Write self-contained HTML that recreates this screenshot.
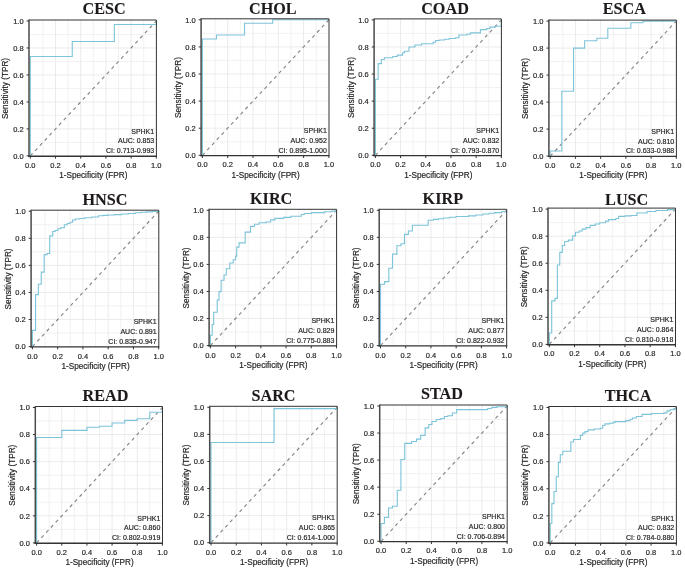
<!DOCTYPE html>
<html><head><meta charset="utf-8"><title>ROC curves</title>
<style>html,body{margin:0;padding:0;background:#fff;}body{width:685px;height:568px;overflow:hidden;font-family:"Liberation Sans",sans-serif;}svg{display:block;will-change:transform;}</style>
</head><body>
<svg width="685" height="568" viewBox="0 0 685 568" font-family="Liberation Sans, sans-serif"><style>text{stroke:#262626;stroke-width:0.18px;} text.t{stroke:#1f1a1a;stroke-width:0.1px;}</style><g><path d="M42.9 20V156.25M29 142.41H156.4M68.1 20V156.25M29 115.43H156.4M93.3 20V156.25M29 88.45H156.4M118.5 20V156.25M29 61.47H156.4M143.7 20V156.25M29 34.49H156.4" stroke="#ebebeb" stroke-width="0.7" fill="none"/>
<path d="M55.5 20V156.25M29 128.92H156.4M80.7 20V156.25M29 101.94H156.4M105.9 20V156.25M29 74.96H156.4M131.1 20V156.25M29 47.98H156.4" stroke="#ebebeb" stroke-width="1.0" fill="none"/>
<path d="M30.3 155.9L156.3 21" stroke="#858585" stroke-width="1.15" stroke-dasharray="3.4 3.6" fill="none"/>
<path d="M30.3 155.9H30.3V56.48H72.26V41.5H114.34V24.51H156.3V24.51H156.3V21" stroke="#7cc4d9" stroke-width="1.1" fill="none" stroke-linejoin="miter"/>
<path d="M29 20H156.4" stroke="#333333" stroke-width="1.0"/>
<path d="M156.4 20V156.25" stroke="#333333" stroke-width="1.0"/>
<path d="M29 19.5V156.85" stroke="#4a4a4a" stroke-width="1.5"/>
<path d="M28.3 156.25H156.9" stroke="#333333" stroke-width="1.3"/>
<path d="M26.6 155.9H29M30.3 156.25V158.65M26.6 128.92H29M55.5 156.25V158.65M26.6 101.94H29M80.7 156.25V158.65M26.6 74.96H29M105.9 156.25V158.65M26.6 47.98H29M131.1 156.25V158.65M26.6 21H29M156.3 156.25V158.65" stroke="#333333" stroke-width="1"/>
<g font-size="7.5" fill="#262626"><text x="23.6" y="158.6" text-anchor="end">0.0</text><text x="30.3" y="167.8" text-anchor="middle">0.0</text><text x="23.6" y="131.62" text-anchor="end">0.2</text><text x="55.5" y="167.8" text-anchor="middle">0.2</text><text x="23.6" y="104.64" text-anchor="end">0.4</text><text x="80.7" y="167.8" text-anchor="middle">0.4</text><text x="23.6" y="77.66" text-anchor="end">0.6</text><text x="105.9" y="167.8" text-anchor="middle">0.6</text><text x="23.6" y="50.68" text-anchor="end">0.8</text><text x="131.1" y="167.8" text-anchor="middle">0.8</text><text x="23.6" y="23.7" text-anchor="end">1.0</text><text x="156.3" y="167.8" text-anchor="middle">1.0</text></g>
<text x="93.3" y="178.1" text-anchor="middle" font-size="8.2" fill="#262626">1-Specificity (FPR)</text>
<text transform="translate(8.4 88.45) rotate(-90)" text-anchor="middle" font-size="8.2" fill="#262626">Sensitivity (TPR)</text>
<g font-size="7.0" fill="#262626" text-anchor="end"><text x="154.2" y="133.5">SPHK1</text><text x="154.2" y="143.3">AUC: 0.853</text><text x="154.2" y="153.2">CI: 0.713-0.993</text></g>
<text class="t" x="104.1" y="13.9" text-anchor="middle" font-family="Liberation Serif, serif" font-weight="bold" font-size="16.2" fill="#1f1a1a">CESC</text></g>
<g><path d="M215.05 18.8V155.65M201.1 141.75H329M240.35 18.8V155.65M201.1 114.65H329M265.65 18.8V155.65M201.1 87.55H329M290.95 18.8V155.65M201.1 60.45H329M316.25 18.8V155.65M201.1 33.35H329" stroke="#ebebeb" stroke-width="0.7" fill="none"/>
<path d="M227.7 18.8V155.65M201.1 128.2H329M253 18.8V155.65M201.1 101.1H329M278.3 18.8V155.65M201.1 74H329M303.6 18.8V155.65M201.1 46.9H329" stroke="#ebebeb" stroke-width="1.0" fill="none"/>
<path d="M202.4 155.3L328.9 19.8" stroke="#858585" stroke-width="1.15" stroke-dasharray="3.4 3.6" fill="none"/>
<path d="M202.4 155.3H202.4V39.04H216.44V34.98H244.52V23.32H272.73V19.8H328.9V19.8" stroke="#7cc4d9" stroke-width="1.1" fill="none" stroke-linejoin="miter"/>
<path d="M201.1 18.8H329" stroke="#333333" stroke-width="1.0"/>
<path d="M329 18.8V155.65" stroke="#333333" stroke-width="1.0"/>
<path d="M201.1 18.3V156.25" stroke="#4a4a4a" stroke-width="1.5"/>
<path d="M200.4 155.65H329.5" stroke="#333333" stroke-width="1.3"/>
<path d="M198.7 155.3H201.1M202.4 155.65V158.05M198.7 128.2H201.1M227.7 155.65V158.05M198.7 101.1H201.1M253 155.65V158.05M198.7 74H201.1M278.3 155.65V158.05M198.7 46.9H201.1M303.6 155.65V158.05M198.7 19.8H201.1M328.9 155.65V158.05" stroke="#333333" stroke-width="1"/>
<g font-size="7.5" fill="#262626"><text x="195.7" y="158" text-anchor="end">0.0</text><text x="202.4" y="167.2" text-anchor="middle">0.0</text><text x="195.7" y="130.9" text-anchor="end">0.2</text><text x="227.7" y="167.2" text-anchor="middle">0.2</text><text x="195.7" y="103.8" text-anchor="end">0.4</text><text x="253" y="167.2" text-anchor="middle">0.4</text><text x="195.7" y="76.7" text-anchor="end">0.6</text><text x="278.3" y="167.2" text-anchor="middle">0.6</text><text x="195.7" y="49.6" text-anchor="end">0.8</text><text x="303.6" y="167.2" text-anchor="middle">0.8</text><text x="195.7" y="22.5" text-anchor="end">1.0</text><text x="328.9" y="167.2" text-anchor="middle">1.0</text></g>
<text x="265.65" y="177.5" text-anchor="middle" font-size="8.2" fill="#262626">1-Specificity (FPR)</text>
<text transform="translate(180.5 87.55) rotate(-90)" text-anchor="middle" font-size="8.2" fill="#262626">Sensitivity (TPR)</text>
<g font-size="7.0" fill="#262626" text-anchor="end"><text x="326.8" y="132.9">SPHK1</text><text x="326.8" y="142.7">AUC: 0.952</text><text x="326.8" y="152.6">CI: 0.895-1.000</text></g>
<text class="t" x="272.85" y="14.3" text-anchor="middle" font-family="Liberation Serif, serif" font-weight="bold" font-size="16.2" fill="#1f1a1a">CHOL</text></g>
<g><path d="M387.99 18.9V155.65M374.1 141.76H501.4M413.17 18.9V155.65M374.1 114.68H501.4M438.35 18.9V155.65M374.1 87.6H501.4M463.53 18.9V155.65M374.1 60.52H501.4M488.71 18.9V155.65M374.1 33.44H501.4" stroke="#ebebeb" stroke-width="0.7" fill="none"/>
<path d="M400.58 18.9V155.65M374.1 128.22H501.4M425.76 18.9V155.65M374.1 101.14H501.4M450.94 18.9V155.65M374.1 74.06H501.4M476.12 18.9V155.65M374.1 46.98H501.4" stroke="#ebebeb" stroke-width="1.0" fill="none"/>
<path d="M375.4 155.3L501.3 19.9" stroke="#858585" stroke-width="1.15" stroke-dasharray="3.4 3.6" fill="none"/>
<path d="M375.4 155.3H375.4V79.21H378.17V63.63H381.32V59.44H384.34V57.81H392.77V56.46H397.31V55.1H402.59V52.8H404.36V51.31H409.02V46.98H414.93V44.95H421.48V43.73H433.19V42.24H435.71V40.48H439.61V39.94H444.64V39.26H449.3V38.45H455.6V37.77H458.87V34.93H466.8V34.25H470.45V32.9H480.4V29.65H486.82V28.43H489.97V27.08H495.26V26.26H501.3V26.26H501.3V19.9" stroke="#7cc4d9" stroke-width="1.1" fill="none" stroke-linejoin="miter"/>
<path d="M374.1 18.9H501.4" stroke="#333333" stroke-width="1.0"/>
<path d="M501.4 18.9V155.65" stroke="#333333" stroke-width="1.0"/>
<path d="M374.1 18.4V156.25" stroke="#4a4a4a" stroke-width="1.5"/>
<path d="M373.4 155.65H501.9" stroke="#333333" stroke-width="1.3"/>
<path d="M371.7 155.3H374.1M375.4 155.65V158.05M371.7 128.22H374.1M400.58 155.65V158.05M371.7 101.14H374.1M425.76 155.65V158.05M371.7 74.06H374.1M450.94 155.65V158.05M371.7 46.98H374.1M476.12 155.65V158.05M371.7 19.9H374.1M501.3 155.65V158.05" stroke="#333333" stroke-width="1"/>
<g font-size="7.5" fill="#262626"><text x="368.7" y="158" text-anchor="end">0.0</text><text x="375.4" y="167.2" text-anchor="middle">0.0</text><text x="368.7" y="130.92" text-anchor="end">0.2</text><text x="400.58" y="167.2" text-anchor="middle">0.2</text><text x="368.7" y="103.84" text-anchor="end">0.4</text><text x="425.76" y="167.2" text-anchor="middle">0.4</text><text x="368.7" y="76.76" text-anchor="end">0.6</text><text x="450.94" y="167.2" text-anchor="middle">0.6</text><text x="368.7" y="49.68" text-anchor="end">0.8</text><text x="476.12" y="167.2" text-anchor="middle">0.8</text><text x="368.7" y="22.6" text-anchor="end">1.0</text><text x="501.3" y="167.2" text-anchor="middle">1.0</text></g>
<text x="438.35" y="177.5" text-anchor="middle" font-size="8.2" fill="#262626">1-Specificity (FPR)</text>
<text transform="translate(353.5 87.6) rotate(-90)" text-anchor="middle" font-size="8.2" fill="#262626">Sensitivity (TPR)</text>
<g font-size="7.0" fill="#262626" text-anchor="end"><text x="499.2" y="132.9">SPHK1</text><text x="499.2" y="142.7">AUC: 0.832</text><text x="499.2" y="152.6">CI: 0.793-0.870</text></g>
<text class="t" x="445" y="14.3" text-anchor="middle" font-family="Liberation Serif, serif" font-weight="bold" font-size="16.2" fill="#1f1a1a">COAD</text></g>
<g><path d="M562.81 20.1V156.45M548.9 142.6H676.4M588.03 20.1V156.45M548.9 115.6H676.4M613.25 20.1V156.45M548.9 88.6H676.4M638.47 20.1V156.45M548.9 61.6H676.4M663.69 20.1V156.45M548.9 34.6H676.4" stroke="#ebebeb" stroke-width="0.7" fill="none"/>
<path d="M575.42 20.1V156.45M548.9 129.1H676.4M600.64 20.1V156.45M548.9 102.1H676.4M625.86 20.1V156.45M548.9 75.1H676.4M651.08 20.1V156.45M548.9 48.1H676.4" stroke="#ebebeb" stroke-width="1.0" fill="none"/>
<path d="M550.2 156.1L676.3 21.1" stroke="#858585" stroke-width="1.15" stroke-dasharray="3.4 3.6" fill="none"/>
<path d="M550.2 156.1H550.2V150.97H561.8V91.3H573.53V48.1H584.63V40.81H596.86V38.24H607.83V28.25H630.9V22.72H642.88V21.1H676.3V21.1" stroke="#7cc4d9" stroke-width="1.1" fill="none" stroke-linejoin="miter"/>
<path d="M548.9 20.1H676.4" stroke="#333333" stroke-width="1.0"/>
<path d="M676.4 20.1V156.45" stroke="#333333" stroke-width="1.0"/>
<path d="M548.9 19.6V157.05" stroke="#4a4a4a" stroke-width="1.5"/>
<path d="M548.2 156.45H676.9" stroke="#333333" stroke-width="1.3"/>
<path d="M546.5 156.1H548.9M550.2 156.45V158.85M546.5 129.1H548.9M575.42 156.45V158.85M546.5 102.1H548.9M600.64 156.45V158.85M546.5 75.1H548.9M625.86 156.45V158.85M546.5 48.1H548.9M651.08 156.45V158.85M546.5 21.1H548.9M676.3 156.45V158.85" stroke="#333333" stroke-width="1"/>
<g font-size="7.5" fill="#262626"><text x="543.5" y="158.8" text-anchor="end">0.0</text><text x="550.2" y="168" text-anchor="middle">0.0</text><text x="543.5" y="131.8" text-anchor="end">0.2</text><text x="575.42" y="168" text-anchor="middle">0.2</text><text x="543.5" y="104.8" text-anchor="end">0.4</text><text x="600.64" y="168" text-anchor="middle">0.4</text><text x="543.5" y="77.8" text-anchor="end">0.6</text><text x="625.86" y="168" text-anchor="middle">0.6</text><text x="543.5" y="50.8" text-anchor="end">0.8</text><text x="651.08" y="168" text-anchor="middle">0.8</text><text x="543.5" y="23.8" text-anchor="end">1.0</text><text x="676.3" y="168" text-anchor="middle">1.0</text></g>
<text x="613.25" y="178.3" text-anchor="middle" font-size="8.2" fill="#262626">1-Specificity (FPR)</text>
<text transform="translate(528.3 88.6) rotate(-90)" text-anchor="middle" font-size="8.2" fill="#262626">Sensitivity (TPR)</text>
<g font-size="7.0" fill="#262626" text-anchor="end"><text x="674.2" y="133.7">SPHK1</text><text x="674.2" y="143.5">AUC: 0.810</text><text x="674.2" y="153.4">CI: 0.633-0.988</text></g>
<text class="t" x="624.25" y="14.3" text-anchor="middle" font-family="Liberation Serif, serif" font-weight="bold" font-size="16.2" fill="#1f1a1a">ESCA</text></g>
<g><path d="M45.03 210.2V346.95M31.1 333.06H158.8M70.29 210.2V346.95M31.1 305.98H158.8M95.55 210.2V346.95M31.1 278.9H158.8M120.81 210.2V346.95M31.1 251.82H158.8M146.07 210.2V346.95M31.1 224.74H158.8" stroke="#ebebeb" stroke-width="0.7" fill="none"/>
<path d="M57.66 210.2V346.95M31.1 319.52H158.8M82.92 210.2V346.95M31.1 292.44H158.8M108.18 210.2V346.95M31.1 265.36H158.8M133.44 210.2V346.95M31.1 238.28H158.8" stroke="#ebebeb" stroke-width="1.0" fill="none"/>
<path d="M32.4 346.6L158.7 211.2" stroke="#858585" stroke-width="1.15" stroke-dasharray="3.4 3.6" fill="none"/>
<path d="M32.4 346.6H32.4V330.35H35.56V294.61H38.34V284.32H41.24V272.13H44.15V254.66H47.05V253.44H49.7V235.84H52.73V231.51H55.13V230.43H57.91V228.8H60.82V227.72H64.35V224.74H67.26V223.52H70.04V222.3H72.56V220H75.47V219.05H79.76V218.51H84.81V217.7H91.76V217.02H98.45V215.8H103.13V215.4H107.8V214.99H114.5V214.59H121.57V214.04H128.39V213.5H135.21V212.82H141.02V212.28H146.07V211.88H152.38V211.47H158.7V211.2" stroke="#7cc4d9" stroke-width="1.1" fill="none" stroke-linejoin="miter"/>
<path d="M31.1 210.2H158.8" stroke="#333333" stroke-width="1.0"/>
<path d="M158.8 210.2V346.95" stroke="#333333" stroke-width="1.0"/>
<path d="M31.1 209.7V347.55" stroke="#4a4a4a" stroke-width="1.5"/>
<path d="M30.4 346.95H159.3" stroke="#333333" stroke-width="1.3"/>
<path d="M28.7 346.6H31.1M32.4 346.95V349.35M28.7 319.52H31.1M57.66 346.95V349.35M28.7 292.44H31.1M82.92 346.95V349.35M28.7 265.36H31.1M108.18 346.95V349.35M28.7 238.28H31.1M133.44 346.95V349.35M28.7 211.2H31.1M158.7 346.95V349.35" stroke="#333333" stroke-width="1"/>
<g font-size="7.5" fill="#262626"><text x="25.7" y="349.3" text-anchor="end">0.0</text><text x="32.4" y="358.5" text-anchor="middle">0.0</text><text x="25.7" y="322.22" text-anchor="end">0.2</text><text x="57.66" y="358.5" text-anchor="middle">0.2</text><text x="25.7" y="295.14" text-anchor="end">0.4</text><text x="82.92" y="358.5" text-anchor="middle">0.4</text><text x="25.7" y="268.06" text-anchor="end">0.6</text><text x="108.18" y="358.5" text-anchor="middle">0.6</text><text x="25.7" y="240.98" text-anchor="end">0.8</text><text x="133.44" y="358.5" text-anchor="middle">0.8</text><text x="25.7" y="213.9" text-anchor="end">1.0</text><text x="158.7" y="358.5" text-anchor="middle">1.0</text></g>
<text x="95.55" y="368.8" text-anchor="middle" font-size="8.2" fill="#262626">1-Specificity (FPR)</text>
<text transform="translate(10.5 278.9) rotate(-90)" text-anchor="middle" font-size="8.2" fill="#262626">Sensitivity (TPR)</text>
<g font-size="7.0" fill="#262626" text-anchor="end"><text x="156.6" y="324.2">SPHK1</text><text x="156.6" y="334">AUC: 0.891</text><text x="156.6" y="343.9">CI: 0.835-0.947</text></g>
<text class="t" x="105" y="204.6" text-anchor="middle" font-family="Liberation Serif, serif" font-weight="bold" font-size="16.2" fill="#1f1a1a">HNSC</text></g>
<g><path d="M223.01 209.3V345.95M209.1 332.07H336.6M248.23 209.3V345.95M209.1 305.01H336.6M273.45 209.3V345.95M209.1 277.95H336.6M298.67 209.3V345.95M209.1 250.89H336.6M323.89 209.3V345.95M209.1 223.83H336.6" stroke="#ebebeb" stroke-width="0.7" fill="none"/>
<path d="M235.62 209.3V345.95M209.1 318.54H336.6M260.84 209.3V345.95M209.1 291.48H336.6M286.06 209.3V345.95M209.1 264.42H336.6M311.28 209.3V345.95M209.1 237.36H336.6" stroke="#ebebeb" stroke-width="1.0" fill="none"/>
<path d="M210.4 345.6L336.5 210.3" stroke="#858585" stroke-width="1.15" stroke-dasharray="3.4 3.6" fill="none"/>
<path d="M210.4 345.6H210.4V335.18H212.17V324.49H213.68V312.32H217.21V300.14H218.97V291.62H221.12V280.25H224.02V274.97H226.29V268.75H229.82V263.07H233.22V259.68H235.62V256.17H236.75V247.1H239.02V242.91H245.2V232.08H250.5V226.4H254.53V224.24H258.95V222.75H266.26V222.07H270.68V219.91H274.96V218.42H283.79V217.34H291.1V216.25H301.32V214.49H304.22V213.55H311.53V212.6H324.65V211.79H331.96V211.11H336.5V211.11H336.5V210.3" stroke="#7cc4d9" stroke-width="1.1" fill="none" stroke-linejoin="miter"/>
<path d="M209.1 209.3H336.6" stroke="#333333" stroke-width="1.0"/>
<path d="M336.6 209.3V345.95" stroke="#333333" stroke-width="1.0"/>
<path d="M209.1 208.8V346.55" stroke="#4a4a4a" stroke-width="1.5"/>
<path d="M208.4 345.95H337.1" stroke="#333333" stroke-width="1.3"/>
<path d="M206.7 345.6H209.1M210.4 345.95V348.35M206.7 318.54H209.1M235.62 345.95V348.35M206.7 291.48H209.1M260.84 345.95V348.35M206.7 264.42H209.1M286.06 345.95V348.35M206.7 237.36H209.1M311.28 345.95V348.35M206.7 210.3H209.1M336.5 345.95V348.35" stroke="#333333" stroke-width="1"/>
<g font-size="7.5" fill="#262626"><text x="203.7" y="348.3" text-anchor="end">0.0</text><text x="210.4" y="357.5" text-anchor="middle">0.0</text><text x="203.7" y="321.24" text-anchor="end">0.2</text><text x="235.62" y="357.5" text-anchor="middle">0.2</text><text x="203.7" y="294.18" text-anchor="end">0.4</text><text x="260.84" y="357.5" text-anchor="middle">0.4</text><text x="203.7" y="267.12" text-anchor="end">0.6</text><text x="286.06" y="357.5" text-anchor="middle">0.6</text><text x="203.7" y="240.06" text-anchor="end">0.8</text><text x="311.28" y="357.5" text-anchor="middle">0.8</text><text x="203.7" y="213" text-anchor="end">1.0</text><text x="336.5" y="357.5" text-anchor="middle">1.0</text></g>
<text x="273.45" y="367.8" text-anchor="middle" font-size="8.2" fill="#262626">1-Specificity (FPR)</text>
<text transform="translate(188.5 277.95) rotate(-90)" text-anchor="middle" font-size="8.2" fill="#262626">Sensitivity (TPR)</text>
<g font-size="7.0" fill="#262626" text-anchor="end"><text x="334.4" y="323.2">SPHK1</text><text x="334.4" y="333">AUC: 0.829</text><text x="334.4" y="342.9">CI: 0.775-0.883</text></g>
<text class="t" x="271.15" y="204.1" text-anchor="middle" font-family="Liberation Serif, serif" font-weight="bold" font-size="16.2" fill="#1f1a1a">KIRC</text></g>
<g><path d="M393.11 209.3V345.95M379.2 332.07H506.7M418.33 209.3V345.95M379.2 305.01H506.7M443.55 209.3V345.95M379.2 277.95H506.7M468.77 209.3V345.95M379.2 250.89H506.7M493.99 209.3V345.95M379.2 223.83H506.7" stroke="#ebebeb" stroke-width="0.7" fill="none"/>
<path d="M405.72 209.3V345.95M379.2 318.54H506.7M430.94 209.3V345.95M379.2 291.48H506.7M456.16 209.3V345.95M379.2 264.42H506.7M481.38 209.3V345.95M379.2 237.36H506.7" stroke="#ebebeb" stroke-width="1.0" fill="none"/>
<path d="M380.5 345.6L506.6 210.3" stroke="#858585" stroke-width="1.15" stroke-dasharray="3.4 3.6" fill="none"/>
<path d="M380.5 345.6H380.5V284.31H384.54V281.6H388.82V268.21H392.48V254.14H396.89V245.75H400.93V243.72H404.46V234.38H408.37V231H412.4V225.18H428.17V220.18H433.46V219.37H438.51V218.69H443.55V218.01H449.86V217.2H456.03V216.52H468.39V215.85H475.71V215.04H483.02V213.95H488.95V213.28H494.75V212.6H501.93V211.52H506.6V211.52H506.6V210.3" stroke="#7cc4d9" stroke-width="1.1" fill="none" stroke-linejoin="miter"/>
<path d="M379.2 209.3H506.7" stroke="#333333" stroke-width="1.0"/>
<path d="M506.7 209.3V345.95" stroke="#333333" stroke-width="1.0"/>
<path d="M379.2 208.8V346.55" stroke="#4a4a4a" stroke-width="1.5"/>
<path d="M378.5 345.95H507.2" stroke="#333333" stroke-width="1.3"/>
<path d="M376.8 345.6H379.2M380.5 345.95V348.35M376.8 318.54H379.2M405.72 345.95V348.35M376.8 291.48H379.2M430.94 345.95V348.35M376.8 264.42H379.2M456.16 345.95V348.35M376.8 237.36H379.2M481.38 345.95V348.35M376.8 210.3H379.2M506.6 345.95V348.35" stroke="#333333" stroke-width="1"/>
<g font-size="7.5" fill="#262626"><text x="373.8" y="348.3" text-anchor="end">0.0</text><text x="380.5" y="357.5" text-anchor="middle">0.0</text><text x="373.8" y="321.24" text-anchor="end">0.2</text><text x="405.72" y="357.5" text-anchor="middle">0.2</text><text x="373.8" y="294.18" text-anchor="end">0.4</text><text x="430.94" y="357.5" text-anchor="middle">0.4</text><text x="373.8" y="267.12" text-anchor="end">0.6</text><text x="456.16" y="357.5" text-anchor="middle">0.6</text><text x="373.8" y="240.06" text-anchor="end">0.8</text><text x="481.38" y="357.5" text-anchor="middle">0.8</text><text x="373.8" y="213" text-anchor="end">1.0</text><text x="506.6" y="357.5" text-anchor="middle">1.0</text></g>
<text x="443.55" y="367.8" text-anchor="middle" font-size="8.2" fill="#262626">1-Specificity (FPR)</text>
<text transform="translate(358.6 277.95) rotate(-90)" text-anchor="middle" font-size="8.2" fill="#262626">Sensitivity (TPR)</text>
<g font-size="7.0" fill="#262626" text-anchor="end"><text x="504.5" y="323.2">SPHK1</text><text x="504.5" y="333">AUC: 0.877</text><text x="504.5" y="342.9">CI: 0.822-0.932</text></g>
<text class="t" x="442.8" y="203.8" text-anchor="middle" font-family="Liberation Serif, serif" font-weight="bold" font-size="16.2" fill="#1f1a1a">KIRP</text></g>
<g><path d="M561.91 208.1V344.75M548 330.87H675.5M587.13 208.1V344.75M548 303.81H675.5M612.35 208.1V344.75M548 276.75H675.5M637.57 208.1V344.75M548 249.69H675.5M662.79 208.1V344.75M548 222.63H675.5" stroke="#ebebeb" stroke-width="0.7" fill="none"/>
<path d="M574.52 208.1V344.75M548 317.34H675.5M599.74 208.1V344.75M548 290.28H675.5M624.96 208.1V344.75M548 263.22H675.5M650.18 208.1V344.75M548 236.16H675.5" stroke="#ebebeb" stroke-width="1.0" fill="none"/>
<path d="M549.3 344.4L675.4 209.1" stroke="#858585" stroke-width="1.15" stroke-dasharray="3.4 3.6" fill="none"/>
<path d="M549.3 344.4H549.3V333.03H551.7V300.83H554.97V298.4H557.37V264.98H559.77V252.4H562.29V245.5H564.68V241.44H568.34V240.08H572.63V235.89H575.53V232.24H579.31V231.02H582.21V229.12H585.87V227.64H590.16V225.34H595.33V223.98H599.74V222.77H605.54V221.14H608.57V219.65H615.75V218.44H618.65V216.41H624.96V215.86H631.14V215.46H636.94V213.02H647.15V211.54H655.85V210.45H667.58V209.64H675.4V209.1" stroke="#7cc4d9" stroke-width="1.1" fill="none" stroke-linejoin="miter"/>
<path d="M548 208.1H675.5" stroke="#333333" stroke-width="1.0"/>
<path d="M675.5 208.1V344.75" stroke="#333333" stroke-width="1.0"/>
<path d="M548 207.6V345.35" stroke="#4a4a4a" stroke-width="1.5"/>
<path d="M547.3 344.75H676" stroke="#333333" stroke-width="1.3"/>
<path d="M545.6 344.4H548M549.3 344.75V347.15M545.6 317.34H548M574.52 344.75V347.15M545.6 290.28H548M599.74 344.75V347.15M545.6 263.22H548M624.96 344.75V347.15M545.6 236.16H548M650.18 344.75V347.15M545.6 209.1H548M675.4 344.75V347.15" stroke="#333333" stroke-width="1"/>
<g font-size="7.5" fill="#262626"><text x="542.6" y="347.1" text-anchor="end">0.0</text><text x="549.3" y="356.3" text-anchor="middle">0.0</text><text x="542.6" y="320.04" text-anchor="end">0.2</text><text x="574.52" y="356.3" text-anchor="middle">0.2</text><text x="542.6" y="292.98" text-anchor="end">0.4</text><text x="599.74" y="356.3" text-anchor="middle">0.4</text><text x="542.6" y="265.92" text-anchor="end">0.6</text><text x="624.96" y="356.3" text-anchor="middle">0.6</text><text x="542.6" y="238.86" text-anchor="end">0.8</text><text x="650.18" y="356.3" text-anchor="middle">0.8</text><text x="542.6" y="211.8" text-anchor="end">1.0</text><text x="675.4" y="356.3" text-anchor="middle">1.0</text></g>
<text x="612.35" y="366.6" text-anchor="middle" font-size="8.2" fill="#262626">1-Specificity (FPR)</text>
<text transform="translate(527.4 276.75) rotate(-90)" text-anchor="middle" font-size="8.2" fill="#262626">Sensitivity (TPR)</text>
<g font-size="7.0" fill="#262626" text-anchor="end"><text x="673.3" y="322">SPHK1</text><text x="673.3" y="331.8">AUC: 0.864</text><text x="673.3" y="341.7">CI: 0.810-0.918</text></g>
<text class="t" x="626.7" y="205" text-anchor="middle" font-family="Liberation Serif, serif" font-weight="bold" font-size="16.2" fill="#1f1a1a">LUSC</text></g>
<g><path d="M49.18 406.5V543.25M35.3 529.36H162.5M74.34 406.5V543.25M35.3 502.28H162.5M99.5 406.5V543.25M35.3 475.2H162.5M124.66 406.5V543.25M35.3 448.12H162.5M149.82 406.5V543.25M35.3 421.04H162.5" stroke="#ebebeb" stroke-width="0.7" fill="none"/>
<path d="M61.76 406.5V543.25M35.3 515.82H162.5M86.92 406.5V543.25M35.3 488.74H162.5M112.08 406.5V543.25M35.3 461.66H162.5M137.24 406.5V543.25M35.3 434.58H162.5" stroke="#ebebeb" stroke-width="1.0" fill="none"/>
<path d="M36.6 542.9L162.4 407.5" stroke="#858585" stroke-width="1.15" stroke-dasharray="3.4 3.6" fill="none"/>
<path d="M36.6 542.9H36.6V437.56H61.76V430.38H86.92V427.27H99.5V426.19H112.08V422.94H124.66V420.36H137.24V418.74H149.82V412.24H162.4V412.24H162.4V407.5" stroke="#7cc4d9" stroke-width="1.1" fill="none" stroke-linejoin="miter"/>
<path d="M35.3 406.5H162.5" stroke="#333333" stroke-width="1.0"/>
<path d="M162.5 406.5V543.25" stroke="#333333" stroke-width="1.0"/>
<path d="M35.3 406V543.85" stroke="#4a4a4a" stroke-width="1.5"/>
<path d="M34.6 543.25H163" stroke="#333333" stroke-width="1.3"/>
<path d="M32.9 542.9H35.3M36.6 543.25V545.65M32.9 515.82H35.3M61.76 543.25V545.65M32.9 488.74H35.3M86.92 543.25V545.65M32.9 461.66H35.3M112.08 543.25V545.65M32.9 434.58H35.3M137.24 543.25V545.65M32.9 407.5H35.3M162.4 543.25V545.65" stroke="#333333" stroke-width="1"/>
<g font-size="7.5" fill="#262626"><text x="29.9" y="545.6" text-anchor="end">0.0</text><text x="36.6" y="554.8" text-anchor="middle">0.0</text><text x="29.9" y="518.52" text-anchor="end">0.2</text><text x="61.76" y="554.8" text-anchor="middle">0.2</text><text x="29.9" y="491.44" text-anchor="end">0.4</text><text x="86.92" y="554.8" text-anchor="middle">0.4</text><text x="29.9" y="464.36" text-anchor="end">0.6</text><text x="112.08" y="554.8" text-anchor="middle">0.6</text><text x="29.9" y="437.28" text-anchor="end">0.8</text><text x="137.24" y="554.8" text-anchor="middle">0.8</text><text x="29.9" y="410.2" text-anchor="end">1.0</text><text x="162.4" y="554.8" text-anchor="middle">1.0</text></g>
<text x="99.5" y="565.1" text-anchor="middle" font-size="8.2" fill="#262626">1-Specificity (FPR)</text>
<text transform="translate(14.7 475.2) rotate(-90)" text-anchor="middle" font-size="8.2" fill="#262626">Sensitivity (TPR)</text>
<g font-size="7.0" fill="#262626" text-anchor="end"><text x="160.3" y="520.5">SPHK1</text><text x="160.3" y="530.3">AUC: 0.860</text><text x="160.3" y="540.2">CI: 0.802-0.919</text></g>
<text class="t" x="105.55" y="401.2" text-anchor="middle" font-family="Liberation Serif, serif" font-weight="bold" font-size="16.2" fill="#1f1a1a">READ</text></g>
<g><path d="M223.61 406.3V543.05M209.7 529.16H337.2M248.83 406.3V543.05M209.7 502.08H337.2M274.05 406.3V543.05M209.7 475H337.2M299.27 406.3V543.05M209.7 447.92H337.2M324.49 406.3V543.05M209.7 420.84H337.2" stroke="#ebebeb" stroke-width="0.7" fill="none"/>
<path d="M236.22 406.3V543.05M209.7 515.62H337.2M261.44 406.3V543.05M209.7 488.54H337.2M286.66 406.3V543.05M209.7 461.46H337.2M311.88 406.3V543.05M209.7 434.38H337.2" stroke="#ebebeb" stroke-width="1.0" fill="none"/>
<path d="M211 542.7L337.1 407.3" stroke="#858585" stroke-width="1.15" stroke-dasharray="3.4 3.6" fill="none"/>
<path d="M211 542.7H211V442.5H274.05V408.65H337.1V408.65H337.1V407.3" stroke="#7cc4d9" stroke-width="1.1" fill="none" stroke-linejoin="miter"/>
<path d="M209.7 406.3H337.2" stroke="#333333" stroke-width="1.0"/>
<path d="M337.2 406.3V543.05" stroke="#333333" stroke-width="1.0"/>
<path d="M209.7 405.8V543.65" stroke="#4a4a4a" stroke-width="1.5"/>
<path d="M209 543.05H337.7" stroke="#333333" stroke-width="1.3"/>
<path d="M207.3 542.7H209.7M211 543.05V545.45M207.3 515.62H209.7M236.22 543.05V545.45M207.3 488.54H209.7M261.44 543.05V545.45M207.3 461.46H209.7M286.66 543.05V545.45M207.3 434.38H209.7M311.88 543.05V545.45M207.3 407.3H209.7M337.1 543.05V545.45" stroke="#333333" stroke-width="1"/>
<g font-size="7.5" fill="#262626"><text x="204.3" y="545.4" text-anchor="end">0.0</text><text x="211" y="554.6" text-anchor="middle">0.0</text><text x="204.3" y="518.32" text-anchor="end">0.2</text><text x="236.22" y="554.6" text-anchor="middle">0.2</text><text x="204.3" y="491.24" text-anchor="end">0.4</text><text x="261.44" y="554.6" text-anchor="middle">0.4</text><text x="204.3" y="464.16" text-anchor="end">0.6</text><text x="286.66" y="554.6" text-anchor="middle">0.6</text><text x="204.3" y="437.08" text-anchor="end">0.8</text><text x="311.88" y="554.6" text-anchor="middle">0.8</text><text x="204.3" y="410" text-anchor="end">1.0</text><text x="337.1" y="554.6" text-anchor="middle">1.0</text></g>
<text x="274.05" y="564.9" text-anchor="middle" font-size="8.2" fill="#262626">1-Specificity (FPR)</text>
<text transform="translate(189.1 475) rotate(-90)" text-anchor="middle" font-size="8.2" fill="#262626">Sensitivity (TPR)</text>
<g font-size="7.0" fill="#262626" text-anchor="end"><text x="335" y="520.3">SPHK1</text><text x="335" y="530.1">AUC: 0.865</text><text x="335" y="540">CI: 0.614-1.000</text></g>
<text class="t" x="273.5" y="400.9" text-anchor="middle" font-family="Liberation Serif, serif" font-weight="bold" font-size="16.2" fill="#1f1a1a">SARC</text></g>
<g><path d="M393.61 405V541.65M379.7 527.77H507.2M418.83 405V541.65M379.7 500.71H507.2M444.05 405V541.65M379.7 473.65H507.2M469.27 405V541.65M379.7 446.59H507.2M494.49 405V541.65M379.7 419.53H507.2" stroke="#ebebeb" stroke-width="0.7" fill="none"/>
<path d="M406.22 405V541.65M379.7 514.24H507.2M431.44 405V541.65M379.7 487.18H507.2M456.66 405V541.65M379.7 460.12H507.2M481.88 405V541.65M379.7 433.06H507.2" stroke="#ebebeb" stroke-width="1.0" fill="none"/>
<path d="M381 541.3L507.1 406" stroke="#858585" stroke-width="1.15" stroke-dasharray="3.4 3.6" fill="none"/>
<path d="M381 541.3H381V523.44H384.4V517.35H388.57V508.02H392.48V506.26H397.27V490.29H400.92V459.44H404.71V443.34H411.64V441.45H416.56V439.15H420.72V435.36H425.13V427.92H428.79V424.54H431.94V421.56H436.23V419.53H440.77V418.45H444.43V416.55H447.83V415.74H452.37V413.04H456.66V409.65H487.68V408.44H491.72V407.35H497.01V406.68H507.1V406.68H507.1V406" stroke="#7cc4d9" stroke-width="1.1" fill="none" stroke-linejoin="miter"/>
<path d="M379.7 405H507.2" stroke="#333333" stroke-width="1.0"/>
<path d="M507.2 405V541.65" stroke="#333333" stroke-width="1.0"/>
<path d="M379.7 404.5V542.25" stroke="#4a4a4a" stroke-width="1.5"/>
<path d="M379 541.65H507.7" stroke="#333333" stroke-width="1.3"/>
<path d="M377.3 541.3H379.7M381 541.65V544.05M377.3 514.24H379.7M406.22 541.65V544.05M377.3 487.18H379.7M431.44 541.65V544.05M377.3 460.12H379.7M456.66 541.65V544.05M377.3 433.06H379.7M481.88 541.65V544.05M377.3 406H379.7M507.1 541.65V544.05" stroke="#333333" stroke-width="1"/>
<g font-size="7.5" fill="#262626"><text x="374.3" y="544" text-anchor="end">0.0</text><text x="381" y="553.2" text-anchor="middle">0.0</text><text x="374.3" y="516.94" text-anchor="end">0.2</text><text x="406.22" y="553.2" text-anchor="middle">0.2</text><text x="374.3" y="489.88" text-anchor="end">0.4</text><text x="431.44" y="553.2" text-anchor="middle">0.4</text><text x="374.3" y="462.82" text-anchor="end">0.6</text><text x="456.66" y="553.2" text-anchor="middle">0.6</text><text x="374.3" y="435.76" text-anchor="end">0.8</text><text x="481.88" y="553.2" text-anchor="middle">0.8</text><text x="374.3" y="408.7" text-anchor="end">1.0</text><text x="507.1" y="553.2" text-anchor="middle">1.0</text></g>
<text x="444.05" y="563.5" text-anchor="middle" font-size="8.2" fill="#262626">1-Specificity (FPR)</text>
<text transform="translate(359.1 473.65) rotate(-90)" text-anchor="middle" font-size="8.2" fill="#262626">Sensitivity (TPR)</text>
<g font-size="7.0" fill="#262626" text-anchor="end"><text x="505" y="518.9">SPHK1</text><text x="505" y="528.7">AUC: 0.800</text><text x="505" y="538.6">CI: 0.706-0.894</text></g>
<text class="t" x="441.9" y="398.9" text-anchor="middle" font-family="Liberation Serif, serif" font-weight="bold" font-size="16.2" fill="#1f1a1a">STAD</text></g>
<g><path d="M562.81 406.5V543.25M548.9 529.36H676.4M588.03 406.5V543.25M548.9 502.28H676.4M613.25 406.5V543.25M548.9 475.2H676.4M638.47 406.5V543.25M548.9 448.12H676.4M663.69 406.5V543.25M548.9 421.04H676.4" stroke="#ebebeb" stroke-width="0.7" fill="none"/>
<path d="M575.42 406.5V543.25M548.9 515.82H676.4M600.64 406.5V543.25M548.9 488.74H676.4M625.86 406.5V543.25M548.9 461.66H676.4M651.08 406.5V543.25M548.9 434.58H676.4" stroke="#ebebeb" stroke-width="1.0" fill="none"/>
<path d="M550.2 542.9L676.3 407.5" stroke="#858585" stroke-width="1.15" stroke-dasharray="3.4 3.6" fill="none"/>
<path d="M550.2 542.9H550.2V523.54H551.84V503.63H553.98V491.45H556.25V476.82H558.4V462.34H560.29V454.75H562.81V451.23H570.88V442.03H573.53V439.45H580.34V435.39H582.73V433.09H585V431.6H588.03V429.84H594.34V429.03H600.26V428.22H602.66V425.51H604.93V423.88H609.47V423.21H613.25V422.39H614.89V421.58H625.61V420.63H630.15V419.28H632.54V418.06H636.33V416.57H642.13V414.41H651.58V413.46H663.94V412.92H666.97V410.88H670V409.8H673.9V408.58H676.3V407.5" stroke="#7cc4d9" stroke-width="1.1" fill="none" stroke-linejoin="miter"/>
<path d="M548.9 406.5H676.4" stroke="#333333" stroke-width="1.0"/>
<path d="M676.4 406.5V543.25" stroke="#333333" stroke-width="1.0"/>
<path d="M548.9 406V543.85" stroke="#4a4a4a" stroke-width="1.5"/>
<path d="M548.2 543.25H676.9" stroke="#333333" stroke-width="1.3"/>
<path d="M546.5 542.9H548.9M550.2 543.25V545.65M546.5 515.82H548.9M575.42 543.25V545.65M546.5 488.74H548.9M600.64 543.25V545.65M546.5 461.66H548.9M625.86 543.25V545.65M546.5 434.58H548.9M651.08 543.25V545.65M546.5 407.5H548.9M676.3 543.25V545.65" stroke="#333333" stroke-width="1"/>
<g font-size="7.5" fill="#262626"><text x="543.5" y="545.6" text-anchor="end">0.0</text><text x="550.2" y="554.8" text-anchor="middle">0.0</text><text x="543.5" y="518.52" text-anchor="end">0.2</text><text x="575.42" y="554.8" text-anchor="middle">0.2</text><text x="543.5" y="491.44" text-anchor="end">0.4</text><text x="600.64" y="554.8" text-anchor="middle">0.4</text><text x="543.5" y="464.36" text-anchor="end">0.6</text><text x="625.86" y="554.8" text-anchor="middle">0.6</text><text x="543.5" y="437.28" text-anchor="end">0.8</text><text x="651.08" y="554.8" text-anchor="middle">0.8</text><text x="543.5" y="410.2" text-anchor="end">1.0</text><text x="676.3" y="554.8" text-anchor="middle">1.0</text></g>
<text x="613.25" y="565.1" text-anchor="middle" font-size="8.2" fill="#262626">1-Specificity (FPR)</text>
<text transform="translate(528.3 475.2) rotate(-90)" text-anchor="middle" font-size="8.2" fill="#262626">Sensitivity (TPR)</text>
<g font-size="7.0" fill="#262626" text-anchor="end"><text x="674.2" y="520.5">SPHK1</text><text x="674.2" y="530.3">AUC: 0.832</text><text x="674.2" y="540.2">CI: 0.784-0.880</text></g>
<text class="t" x="628.05" y="400.9" text-anchor="middle" font-family="Liberation Serif, serif" font-weight="bold" font-size="16.2" fill="#1f1a1a">THCA</text></g></svg>
</body></html>
